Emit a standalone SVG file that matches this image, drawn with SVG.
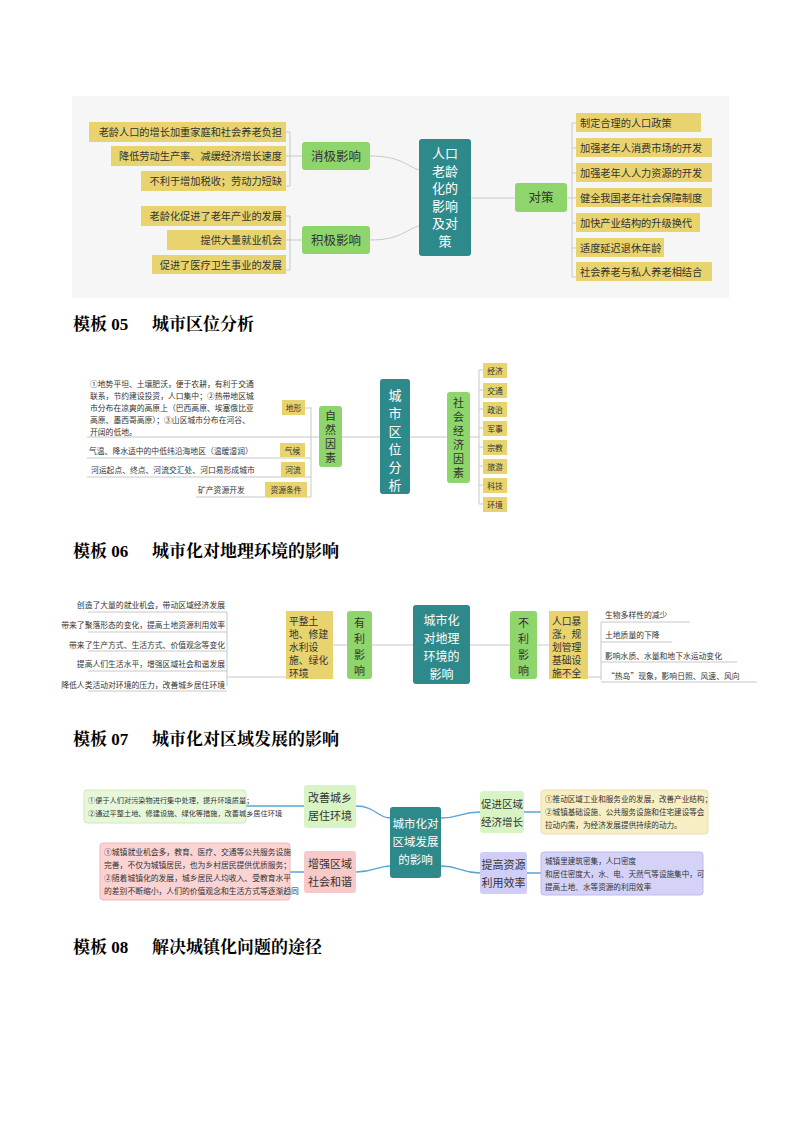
<svg xmlns="http://www.w3.org/2000/svg" width="794" height="1123" viewBox="0 0 794 1123">
<style>
text{font-family:"Noto Sans CJK SC","Noto Sans",sans-serif;fill:#333}
.t{font-family:"Liberation Serif","Noto Serif CJK SC","Noto Sans CJK SC",serif;font-weight:bold;font-size:17px;fill:#000}
.c{fill:#2e8a8a}.g{fill:#8ed56b}.y{fill:#e8d36e}
.ln{fill:none;stroke:#c8c8c8;stroke-width:1}
.bl{fill:none;stroke:#5aa3d6;stroke-width:1.3}
.s1{font-size:10.2px}.s2{font-size:7.8px}
</style>
<rect width="794" height="1123" fill="#fff"/>
<text class="t" x="73" y="330">模板 05<tspan x="152">城市区位分析</tspan></text>
<text class="t" x="73" y="557">模板 06<tspan x="152">城市化对地理环境的影响</tspan></text>
<text class="t" x="73" y="745">模板 07<tspan x="152">城市化对区域发展的影响</tspan></text>
<text class="t" x="73" y="953">模板 08<tspan x="152">解决城镇化问题的途径</tspan></text>

<!-- Section 1 -->
<rect x="72" y="96" width="657" height="202" fill="#f6f6f6"/>
<g id="conn1">
<path class="ln" d="M370 156 C400 156 405 165 419 170 M370 240 C400 240 405 230 419 226 M471 198 H515"/>
<path class="ln" d="M286 132 H290 V186 H286 M286 156 H302 M290 216 V270 H286 M286 240 H302 M286 216 H290"/>
<path class="ln" d="M567 198 H572 M576 123 H572 V277 H576 M572 148 H576 M572 173 H576 M572 198 H576 M572 223 H576 M572 248 H576"/>
</g>
<g id="n1c"><rect class="c" x="419" y="139" width="52" height="117" rx="3"/>
<text font-size="13" text-anchor="middle" style="fill:#fff"><tspan x="445" y="158">人口</tspan><tspan x="445" y="175.5">老龄</tspan><tspan x="445" y="193">化的</tspan><tspan x="445" y="210.5">影响</tspan><tspan x="445" y="228">及对</tspan><tspan x="445" y="245.5">策</tspan></text></g>
<g id="n1a"><rect class="g" x="302" y="142" width="68" height="28" rx="3"/><text x="336" y="161" font-size="12.5" text-anchor="middle">消极影响</text></g>
<g id="n1b"><rect class="g" x="302" y="226" width="68" height="28" rx="3"/><text x="336" y="245" font-size="12.5" text-anchor="middle">积极影响</text></g>
<g id="n1d"><rect class="g" x="515" y="183" width="52" height="29" rx="3"/><text x="541" y="202" font-size="12.5" text-anchor="middle">对策</text></g>
<g id="n1l" class="s1" text-anchor="end">
<rect class="y" x="89" y="122" width="197" height="20"/><text x="282" y="136">老龄人口的增长加重家庭和社会养老负担</text>
<rect class="y" x="111" y="146" width="175" height="20"/><text x="282" y="160">降低劳动生产率、减缓经济增长速度</text>
<rect class="y" x="141" y="171" width="145" height="20"/><text x="282" y="185">不利于增加税收；劳动力短缺</text>
<rect class="y" x="141" y="206" width="145" height="20"/><text x="282" y="220">老龄化促进了老年产业的发展</text>
<rect class="y" x="167" y="230" width="119" height="20"/><text x="282" y="244">提供大量就业机会</text>
<rect class="y" x="152" y="255" width="134" height="19"/><text x="282" y="269">促进了医疗卫生事业的发展</text>
</g>
<g id="n1r" class="s1">
<rect class="y" x="576" y="113" width="125" height="19"/><text x="580" y="127">制定合理的人口政策</text>
<rect class="y" x="576" y="138" width="136" height="19"/><text x="580" y="152">加强老年人消费市场的开发</text>
<rect class="y" x="576" y="163" width="136" height="19"/><text x="580" y="177">加强老年人人力资源的开发</text>
<rect class="y" x="576" y="188" width="136" height="19"/><text x="580" y="202">健全我国老年社会保障制度</text>
<rect class="y" x="576" y="213" width="124" height="19"/><text x="580" y="227">加快产业结构的升级换代</text>
<rect class="y" x="576" y="238" width="88" height="19"/><text x="580" y="252">适度延迟退休年龄</text>
<rect class="y" x="576" y="262" width="136" height="19"/><text x="580" y="276">社会养老与私人养老相结合</text>
</g>

<!-- Section 2 -->
<g id="conn2">
<path class="ln" d="M342 437 H380 M410 437 H447 M470 437 H479"/>
<path class="ln" d="M319 437 H311 M311 407 V497 M305 408 H311 M87 437 H311 M87 458 H311 M87 477 H311 M196 497 H311"/>
<path class="ln" d="M479 370 V504 M479 370 H483 M479 390 H483 M479 409 H483 M479 428 H483 M479 447 H483 M479 466 H483 M479 485 H483 M479 504 H483"/>
</g>
<g id="n2c"><rect class="c" x="380" y="379" width="30" height="115" rx="3"/>
<text font-size="13" text-anchor="middle" style="fill:#fff"><tspan x="395" y="400">城</tspan><tspan x="395" y="418">市</tspan><tspan x="395" y="436">区</tspan><tspan x="395" y="454">位</tspan><tspan x="395" y="472">分</tspan><tspan x="395" y="490">析</tspan></text></g>
<g id="n2a"><rect class="g" x="319" y="406" width="23" height="61" rx="3"/>
<text font-size="11" text-anchor="middle"><tspan x="330.5" y="420">自</tspan><tspan x="330.5" y="434">然</tspan><tspan x="330.5" y="448">因</tspan><tspan x="330.5" y="462">素</tspan></text></g>
<g id="n2b"><rect class="g" x="447" y="392" width="23" height="91" rx="3"/>
<text font-size="11" text-anchor="middle"><tspan x="458.5" y="407">社</tspan><tspan x="458.5" y="421">会</tspan><tspan x="458.5" y="435">经</tspan><tspan x="458.5" y="449">济</tspan><tspan x="458.5" y="463">因</tspan><tspan x="458.5" y="477">素</tspan></text></g>
<g id="n2r" class="s2" text-anchor="middle">
<rect class="y" x="483" y="363" width="24" height="15"/><text x="495" y="374">经济</text>
<rect class="y" x="483" y="383" width="24" height="15"/><text x="495" y="394">交通</text>
<rect class="y" x="483" y="402" width="24" height="15"/><text x="495" y="413">政治</text>
<rect class="y" x="483" y="421" width="24" height="15"/><text x="495" y="432">军事</text>
<rect class="y" x="483" y="440" width="24" height="15"/><text x="495" y="451">宗教</text>
<rect class="y" x="483" y="459" width="24" height="15"/><text x="495" y="470">旅游</text>
<rect class="y" x="483" y="478" width="24" height="15"/><text x="495" y="489">科技</text>
<rect class="y" x="483" y="497" width="24" height="15"/><text x="495" y="508">环境</text>
</g>
<g id="n2l" class="s2">
<rect class="y" x="282" y="400" width="23" height="15"/><text x="293.5" y="411" text-anchor="middle">地形</text>
<text><tspan x="90" y="387">①地势平坦、土壤肥沃，便于农耕，有利于交通</tspan><tspan x="90" y="399">联系，节约建设投资，人口集中；②热带地区城</tspan><tspan x="90" y="411">市分布在凉爽的高原上（巴西高原、埃塞俄比亚</tspan><tspan x="90" y="423">高原、墨西哥高原）；③山区城市分布在河谷、</tspan><tspan x="90" y="435">开阔的低地。</tspan></text>
<rect class="y" x="280" y="443" width="25" height="14"/><text x="292.5" y="453.5" text-anchor="middle">气候</text>
<text x="89" y="454">气温、降水适中的中低纬沿海地区（温暖湿润）</text>
<rect class="y" x="281" y="462" width="24" height="15"/><text x="293" y="473" text-anchor="middle">河流</text>
<text x="91" y="473">河运起点、终点、河流交汇处、河口易形成城市</text>
<rect class="y" x="265" y="482" width="42" height="15"/><text x="286" y="493" text-anchor="middle">资源条件</text>
<text x="198" y="493">矿产资源开发</text>
</g>

<!-- Section 3 -->
<g id="conn3">
<path class="ln" d="M372 645 H413 M470 645 H510 M333 645 H347 M537 645 H549"/>
<path class="ln" d="M286 677 H227 M227 612 V686 M88 612 H227 M88 632 H227 M88 651 H227 M88 671 H227 M88 691 H227"/>
<path class="ln" d="M588 677 H601 M601 622 V680 M601 622 H690 M601 642 H672 M601 662 H737 M601 682 H757"/>
</g>
<g id="n3c"><rect class="c" x="413" y="605" width="57" height="79" rx="3"/>
<text font-size="12" text-anchor="middle" style="fill:#fff"><tspan x="441.5" y="625">城市化</tspan><tspan x="441.5" y="643">对地理</tspan><tspan x="441.5" y="661">环境的</tspan><tspan x="441.5" y="679">影响</tspan></text></g>
<g id="n3a"><rect class="g" x="347" y="611" width="25" height="68" rx="3"/>
<text font-size="11" text-anchor="middle"><tspan x="359.5" y="627">有</tspan><tspan x="359.5" y="643">利</tspan><tspan x="359.5" y="659">影</tspan><tspan x="359.5" y="675">响</tspan></text></g>
<g id="n3b"><rect class="y" x="286" y="611" width="47" height="68"/>
<text font-size="9.8"><tspan x="289" y="625">平整土</tspan><tspan x="289" y="638">地、修建</tspan><tspan x="289" y="651">水利设</tspan><tspan x="289" y="664">施、绿化</tspan><tspan x="289" y="677">环境</tspan></text></g>
<g id="n3d"><rect class="g" x="510" y="611" width="27" height="68" rx="3"/>
<text font-size="11" text-anchor="middle"><tspan x="523.5" y="627">不</tspan><tspan x="523.5" y="643">利</tspan><tspan x="523.5" y="659">影</tspan><tspan x="523.5" y="675">响</tspan></text></g>
<g id="n3e"><rect class="y" x="549" y="611" width="39" height="68"/>
<text font-size="9.8"><tspan x="552" y="625">人口暴</tspan><tspan x="552" y="638">涨，规</tspan><tspan x="552" y="651">划管理</tspan><tspan x="552" y="664">基础设</tspan><tspan x="552" y="677">施不全</tspan></text></g>
<g id="n3l" class="s2" text-anchor="end">
<text x="225" y="608">创造了大量的就业机会，带动区域经济发展</text>
<text x="225" y="628">带来了聚落形态的变化，提高土地资源利用效率</text>
<text x="225" y="648">带来了生产方式、生活方式、价值观念等变化</text>
<text x="225" y="667">提高人们生活水平，增强区域社会和谐发展</text>
<text x="225" y="688">降低人类活动对环境的压力，改善城乡居住环境</text>
</g>
<g id="n3r" class="s2">
<text x="605" y="618">生物多样性的减少</text>
<text x="605" y="638">土地质量的下降</text>
<text x="605" y="659">影响水质、水量和地下水运动变化</text>
<text x="607" y="679">“热岛”现象，影响日照、风速、风向</text>
</g>

<!-- Section 4 -->
<g id="conn4">
<path class="bl" d="M356 806 C375 806 378 818 390 818 M356 872 C375 872 378 866 390 866 M441 818 C460 818 460 812 480 812 M441 866 C460 866 460 873 480 873"/>
<path class="bl" d="M246 806 H304 M290 872 H304 M524 812 H541 M527 873 H541"/>
</g>
<g id="n4c"><rect class="c" x="390" y="807" width="51" height="71" rx="3"/>
<text font-size="11.5" text-anchor="middle" style="fill:#fff"><tspan x="415.5" y="828">城市化对</tspan><tspan x="415.5" y="846">区域发展</tspan><tspan x="415.5" y="864">的影响</tspan></text></g>
<g id="n4a"><rect x="304" y="785" width="52" height="43" rx="3" fill="#d8f4c4"/>
<text font-size="11" text-anchor="middle"><tspan x="330" y="802">改善城乡</tspan><tspan x="330" y="820">居住环境</tspan></text></g>
<g id="n4b"><rect x="304" y="851" width="52" height="42" rx="3" fill="#f8c9c9"/>
<text font-size="11" text-anchor="middle"><tspan x="330" y="868">增强区域</tspan><tspan x="330" y="886">社会和谐</tspan></text></g>
<g id="n4d"><rect x="480" y="791" width="44" height="42" rx="3" fill="#d8f4c4"/>
<text font-size="10.5" text-anchor="middle"><tspan x="502" y="808">促进区域</tspan><tspan x="502" y="826">经济增长</tspan></text></g>
<g id="n4e"><rect x="480" y="852" width="47" height="42" rx="3" fill="#d0cef6"/>
<text font-size="11" text-anchor="middle"><tspan x="503.5" y="869">提高资源</tspan><tspan x="503.5" y="887">利用效率</tspan></text></g>
<g id="n4l" font-size="7.2">
<rect x="84" y="790" width="162" height="33" rx="3" fill="#e6f7da" stroke="#cfeab8"/>
<text><tspan x="88" y="803">①便于人们对污染物进行集中处理，提升环境质量；</tspan><tspan x="88" y="816">②通过平整土地、修建设施、绿化等措施，改善城乡居住环境</tspan></text>
<rect x="100" y="843" width="190" height="57" rx="3" fill="#fbd3d3" stroke="#f0b9b9"/>
<text font-size="7.8"><tspan x="104" y="855">①城镇就业机会多，教育、医疗、交通等公共服务设施</tspan><tspan x="104" y="868">完善，不仅为城镇居民，也为乡村居民提供优质服务；</tspan><tspan x="104" y="881">②随着城镇化的发展，城乡居民人均收入、受教育水平</tspan><tspan x="104" y="894">的差别不断缩小，人们的价值观念和生活方式等逐渐趋同</tspan></text>
</g>
<g id="n4r" font-size="7.6">
<rect x="541" y="790" width="167" height="44" rx="3" fill="#f7eec4" stroke="#ecdfa8"/>
<text><tspan x="545" y="802">①推动区域工业和服务业的发展，改善产业结构；</tspan><tspan x="545" y="815">②城镇基础设施、公共服务设施和住宅建设等会</tspan><tspan x="545" y="828">拉动内需，为经济发展提供持续的动力。</tspan></text>
<rect x="541" y="852" width="162" height="43" rx="3" fill="#d4d2f7" stroke="#bdbaf0"/>
<text><tspan x="545" y="864">城镇里建筑密集，人口密度</tspan><tspan x="545" y="877">和居住密度大，水、电、天然气等设施集中，可</tspan><tspan x="545" y="890">提高土地、水等资源的利用效率</tspan></text>
</g>
</svg>
